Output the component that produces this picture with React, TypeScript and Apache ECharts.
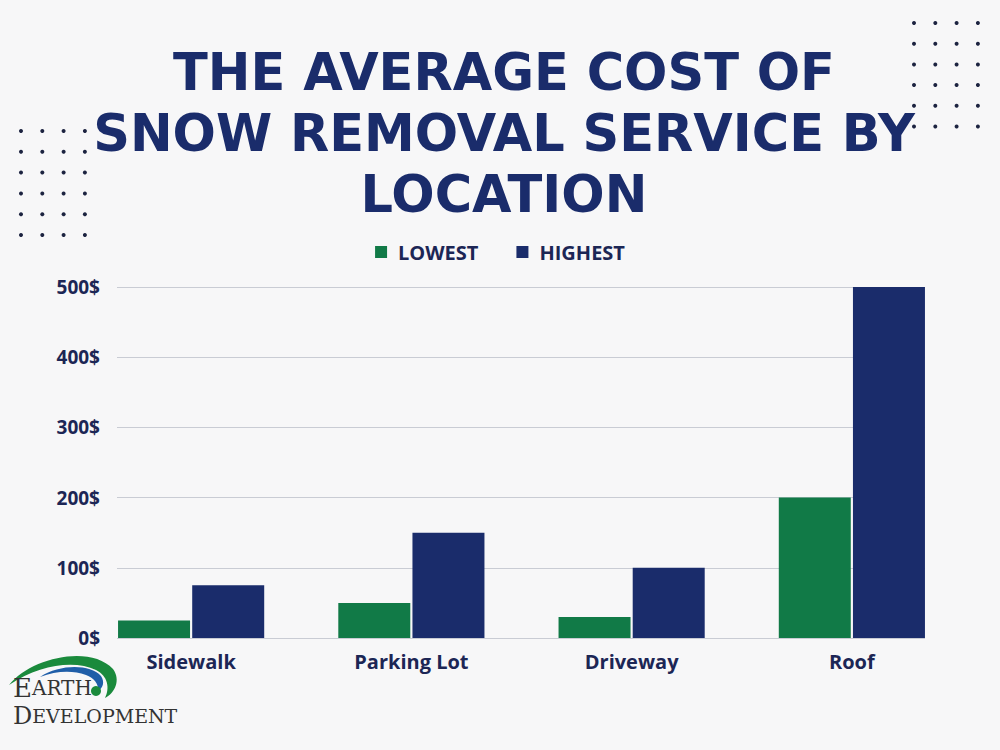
import React, { useEffect, useRef } from "react";
import * as echarts from "echarts";

const categories = ["Sidewalk", "Parking Lot", "Driveway", "Roof"];
const lowest = [25, 50, 30, 200];
const highest = [75, 150, 100, 500];
const seriesNames = ["LOWEST", "HIGHEST"];
const titleLines = ["THE AVERAGE COST OF", "SNOW REMOVAL SERVICE BY", "LOCATION"];

const GREEN = "#117a47";
const NAVY = "#1a2c6b";
const TEXT = "#1c2655";
const TFONT = "'DejaVu Sans', Lato, sans-serif";
const LFONT = "'Open Sans', Lato, sans-serif";
const SERIF = "'DejaVu Serif', 'Liberation Serif', serif";

echarts.graphic.registerShape(
  "greenSwoosh",
  echarts.graphic.extendPath(
    "M 9 685 C 30 658 90 644 113 669 C 121 680 115 693 105 698 C 110 688 108 676 96 670 C 75 660 40 664 9 685 Z",
    {}
  )
);
echarts.graphic.registerShape(
  "blueSwoosh",
  echarts.graphic.extendPath(
    "M 40 677 C 60 664 90 664 101 676 C 105 682 103 688 98 691 C 99 684 94 678 86 675 C 72 670 56 671 40 677 Z",
    {}
  )
);

function dots(x0: number, y0: number, dx: number, dy: number, cols: number, rows: number) {
  const out: any[] = [];
  for (let r = 0; r < rows; r++) {
    for (let c = 0; c < cols; c++) {
      out.push({
        type: "circle",
        shape: { cx: x0 + c * dx, cy: y0 + r * dy, r: 2 },
        style: { fill: "#1c2340" },
        silent: true,
      });
    }
  }
  return out;
}

export default function App() {
  const ref = useRef<HTMLDivElement>(null);
  useEffect(() => {
    if (!ref.current) return;
    const chart = echarts.init(ref.current, undefined, { renderer: "svg" });
    chart.setOption({
      animation: false,
      backgroundColor: "#f7f7f8",
      legend: {
        top: 237,
        left: "center",
        icon: "rect",
        itemWidth: 12,
        itemHeight: 12,
        itemGap: 38,
        data: seriesNames,
        textStyle: {
          color: TEXT,
          fontSize: 20,
          fontWeight: "bold",
          fontFamily: LFONT,
          padding: [0, 0, 0, 6],
        },
      },
      grid: [
        { left: 117, right: 75, top: 287, bottom: 112 },
        { left: 81, right: 38, top: 287, bottom: 112 },
      ],
      xAxis: [
        { type: "value", gridIndex: 0, show: false, min: 0, max: 1 },
        {
          type: "category",
          gridIndex: 1,
          data: categories,
          axisLine: { show: false },
          axisTick: { show: false },
          axisLabel: {
            color: TEXT,
            fontSize: 20,
            fontWeight: "bold",
            fontFamily: LFONT,
            margin: 13,
          },
        },
      ],
      yAxis: [
        {
          type: "value",
          gridIndex: 0,
          min: 0,
          max: 500,
          interval: 100,
          axisLine: { show: false },
          axisTick: { show: false },
          axisLabel: {
            formatter: "{value}$",
            color: TEXT,
            fontSize: 19,
            fontWeight: "bold",
            fontFamily: LFONT,
            margin: 17,
          },
          splitLine: { lineStyle: { color: "#c9ccd4", width: 1 } },
        },
        { type: "value", gridIndex: 1, min: 0, max: 500, show: false },
      ],
      series: [
        {
          name: seriesNames[0],
          type: "bar",
          xAxisIndex: 1,
          yAxisIndex: 1,
          data: lowest,
          barWidth: 72,
          barGap: "3%",
          itemStyle: { color: GREEN },
        },
        {
          name: seriesNames[1],
          type: "bar",
          xAxisIndex: 1,
          yAxisIndex: 1,
          data: highest,
          barWidth: 72,
          barGap: "3%",
          itemStyle: { color: NAVY },
        },
      ],
      graphic: [
        {
          type: "text",
          x: 504,
          y: 41.5,
          style: {
            text: titleLines.join("\n"),
            fill: NAVY,
            fontFamily: TFONT,
            fontWeight: "bold",
            fontSize: 51,
            lineHeight: 61,
            align: "center",
            verticalAlign: "top",
          },
        },
        ...dots(21, 131, 21.3, 20.8, 4, 6),
        ...dots(914, 23, 21.3, 20.7, 4, 6),
        { type: "greenSwoosh", style: { fill: "#1a8a3c" } },
        { type: "blueSwoosh", style: { fill: "#1f5ea8" } },
        { type: "circle", shape: { cx: 96, cy: 691, r: 5 }, style: { fill: "#1a8a3c" } },
        {
          type: "text",
          x: 13,
          y: 701,
          style: {
            text: "{a|E}{b|ARTH}",
            verticalAlign: "bottom",
            rich: {
              a: { fontFamily: SERIF, fontSize: 26, lineHeight: 26, fill: "#333" },
              b: { fontFamily: SERIF, fontSize: 20, lineHeight: 26, fill: "#333" },
            },
          },
        },
        {
          type: "text",
          x: 13,
          y: 704,
          style: {
            text: "{a|D}{b|EVELOPMENT}",
            verticalAlign: "top",
            rich: {
              a: { fontFamily: SERIF, fontSize: 24, lineHeight: 24, fill: "#333" },
              b: { fontFamily: SERIF, fontSize: 19, lineHeight: 24, fill: "#333" },
            },
          },
        },
      ],
    });
    return () => chart.dispose();
  }, []);
  return (
    <div
      ref={ref}
      style={{ position: "fixed", left: 0, top: 0, width: 1000, height: 750, background: "#f7f7f8" }}
    />
  );
}
